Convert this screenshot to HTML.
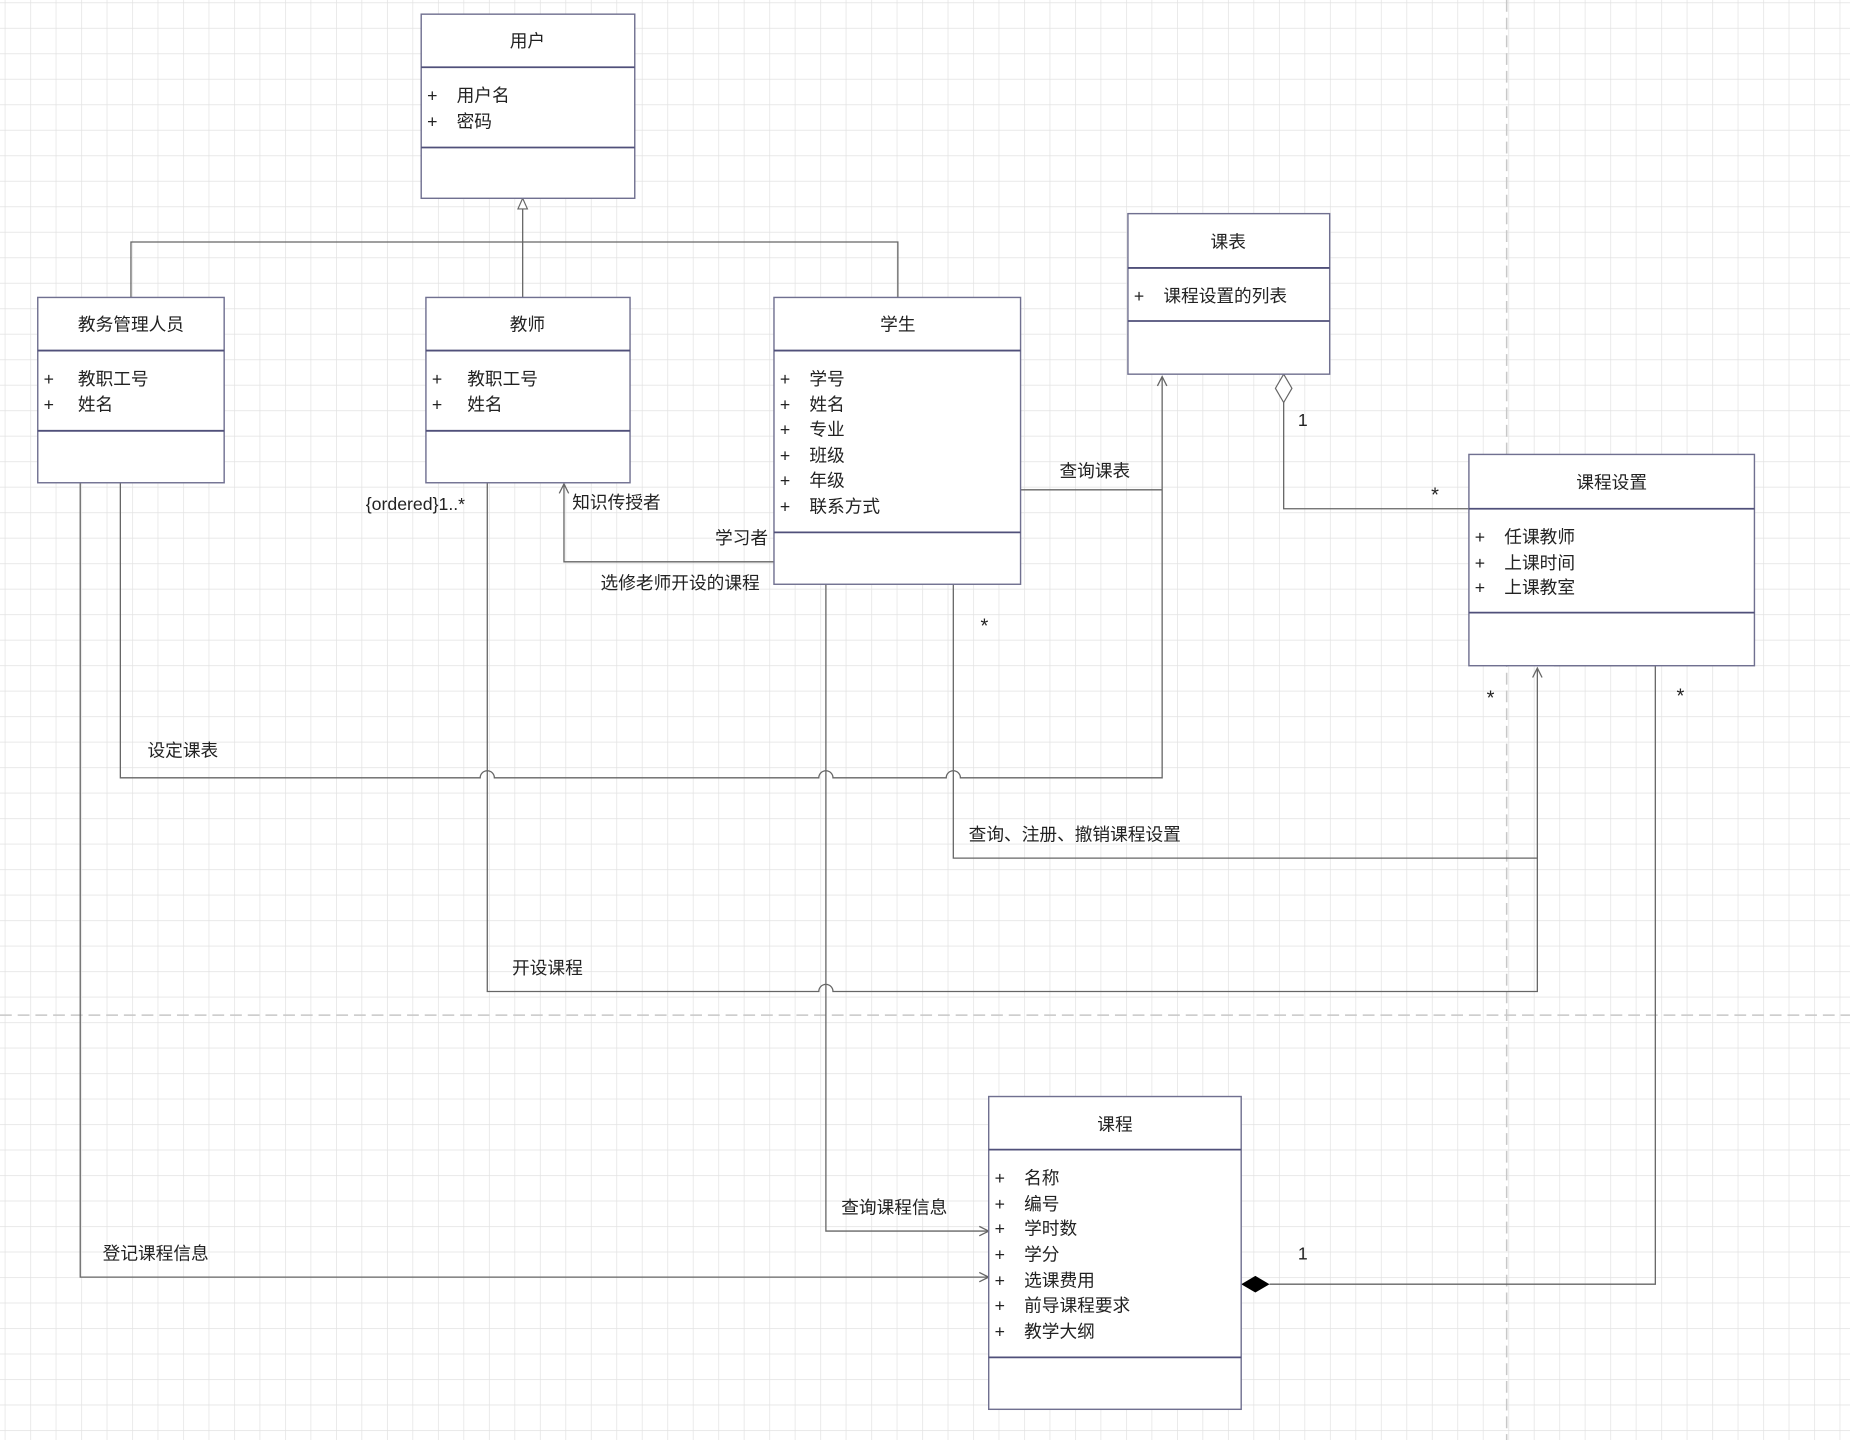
<!DOCTYPE html>
<html><head><meta charset="utf-8"><style>
html,body{margin:0;padding:0;background:#fff;}
svg{display:block;}
text{font-family:"Liberation Sans","Noto Sans CJK SC",sans-serif;fill:#222;}
</style></head><body>
<svg width="1850" height="1440" viewBox="0 0 1568 1220" preserveAspectRatio="none" xmlns="http://www.w3.org/2000/svg">
<defs>
<pattern id="g" width="21.6" height="21.6" patternUnits="userSpaceOnUse" x="4" y="2">
<path d="M0 0H21.6M0 0V21.6" stroke="#e2e2e2" stroke-width="1.2" fill="none"/>
</pattern>
</defs>
<rect width="1568" height="1220" fill="#fff"/>
<rect width="1568" height="1220" fill="url(#g)"/>
<line x1="1277" y1="0" x2="1277" y2="1220" stroke="#c8c8c8" stroke-width="1.3" stroke-dasharray="10,5"/>
<line x1="0" y1="860" x2="1568" y2="860" stroke="#c8c8c8" stroke-width="1.3" stroke-dasharray="10,5"/>

<g stroke="#666" stroke-width="1.1" fill="none">
<!-- generalization -->
<polyline points="111,252 111,205 761,205 761,252"/>
<line x1="443" y1="252" x2="443" y2="176"/>
<!-- 设定课表 -->
<path d="M102,409 V659 H407 a6,6 0 0 1 12,0 H694 a6,6 0 0 1 12,0 H802 a6,6 0 0 1 12,0 H985 V319"/>
<polyline points="981,327 985,319 989,327"/>
<!-- 查询课表 -->
<line x1="865" y1="415" x2="985" y2="415"/>
<!-- 知识传授者 -->
<polyline points="656,476 478,476 478,410"/>
<polyline points="474,418 478,410 482,418"/>
<!-- 开设课程 -->
<path d="M413,409 V840 H694 a6,6 0 0 1 12,0 H1303 V566"/>
<polyline points="1299,574 1303,566 1307,574"/>
<!-- 查询注册撤销 -->
<polyline points="808,495 808,727 1303,727"/>
<!-- 查询课程信息 -->
<polyline points="700,495 700,1043 838,1043"/>
<polyline points="830,1039 838,1043 830,1047"/>
<!-- 登记课程信息 -->
<polyline points="68,409 68,1082 838,1082"/>
<polyline points="830,1078 838,1082 830,1086"/>
<!-- aggregation -->
<polyline points="1088,341 1088,431 1245,431"/>
<!-- composition -->
<polyline points="1317,564 1403,564 1403,1088 1076,1088"/>
</g>
<polygon points="443,168 439,177 447,177" fill="#fff" stroke="#666" stroke-width="1"/>
<polygon points="1088,317 1095,329 1088,341 1081,329" fill="#fff" stroke="#666" stroke-width="1"/>
<polygon points="1052,1088 1064,1081 1076,1088 1064,1095" fill="#000"/>

<g stroke="#707090" stroke-width="1.2" fill="#fff">
<rect x="357" y="12" width="181" height="156"/>
<rect x="32" y="252" width="158" height="157"/>
<rect x="361" y="252" width="173" height="157"/>
<rect x="656" y="252" width="209" height="243"/>
<rect x="956" y="181" width="171" height="136"/>
<rect x="1245" y="385" width="242" height="179"/>
<rect x="838" y="929" width="214" height="265"/>
</g>
<g stroke="#50507a" stroke-width="1.5">
<line x1="357" y1="57" x2="538" y2="57"/><line x1="357" y1="125" x2="538" y2="125"/>
<line x1="32" y1="297" x2="190" y2="297"/><line x1="32" y1="365" x2="190" y2="365"/>
<line x1="361" y1="297" x2="534" y2="297"/><line x1="361" y1="365" x2="534" y2="365"/>
<line x1="656" y1="297" x2="865" y2="297"/><line x1="656" y1="451" x2="865" y2="451"/>
<line x1="956" y1="227" x2="1127" y2="227"/><line x1="956" y1="272" x2="1127" y2="272"/>
<line x1="1245" y1="431" x2="1487" y2="431"/><line x1="1245" y1="519" x2="1487" y2="519"/>
<line x1="838" y1="974" x2="1052" y2="974"/><line x1="838" y1="1150" x2="1052" y2="1150"/>
</g>

<g font-size="15" text-anchor="middle">
<text x="447" y="40">用户</text>
<text x="111" y="280">教务管理人员</text>
<text x="447" y="280">教师</text>
<text x="761" y="280">学生</text>
<text x="1041" y="210">课表</text>
<text x="1366" y="414">课程设置</text>
<text x="945" y="958">课程</text>
</g>
<g font-size="15">
<text x="362" y="86">+</text><text x="387" y="86">用户名</text>
<text x="362" y="108">+</text><text x="387" y="108">密码</text>
<text x="37" y="326">+</text><text x="66" y="326">教职工号</text>
<text x="37" y="348">+</text><text x="66" y="348">姓名</text>
<text x="366" y="326">+</text><text x="396" y="326">教职工号</text>
<text x="366" y="348">+</text><text x="396" y="348">姓名</text>
<text x="661" y="326">+</text><text x="686" y="326">学号</text>
<text x="661" y="348">+</text><text x="686" y="348">姓名</text>
<text x="661" y="369">+</text><text x="686" y="369">专业</text>
<text x="661" y="391">+</text><text x="686" y="391">班级</text>
<text x="661" y="412">+</text><text x="686" y="412">年级</text>
<text x="661" y="434">+</text><text x="686" y="434">联系方式</text>
<text x="961" y="256">+</text><text x="986" y="256">课程设置的列表</text>
<text x="1250" y="460">+</text><text x="1275" y="460">任课教师</text>
<text x="1250" y="482">+</text><text x="1275" y="482">上课时间</text>
<text x="1250" y="503">+</text><text x="1275" y="503">上课教室</text>
<text x="843" y="1003">+</text><text x="868" y="1003">名称</text>
<text x="843" y="1025">+</text><text x="868" y="1025">编号</text>
<text x="843" y="1046">+</text><text x="868" y="1046">学时数</text>
<text x="843" y="1068">+</text><text x="868" y="1068">学分</text>
<text x="843" y="1090">+</text><text x="868" y="1090">选课费用</text>
<text x="843" y="1111">+</text><text x="868" y="1111">前导课程要求</text>
<text x="843" y="1133">+</text><text x="868" y="1133">教学大纲</text>

<text x="310" y="432">{ordered}1..*</text>
<text x="485" y="431">知识传授者</text>
<text x="606" y="461">学习者</text>
<text x="509" y="499">选修老师开设的课程</text>
<text x="898" y="404">查询课表</text>
<text x="125" y="641">设定课表</text>
<text x="821" y="712">查询、注册、撤销课程设置</text>
<text x="434" y="825">开设课程</text>
<text x="713" y="1028">查询课程信息</text>
<text x="87" y="1067">登记课程信息</text>
<text x="1100" y="361">1</text>
<text x="1100" y="1067">1</text>
</g>
<g font-size="17">
<text x="1213" y="425">*</text>
<text x="831" y="536">*</text>
<text x="1260" y="597">*</text>
<text x="1421" y="595">*</text>
</g>
</svg>
</body></html>
